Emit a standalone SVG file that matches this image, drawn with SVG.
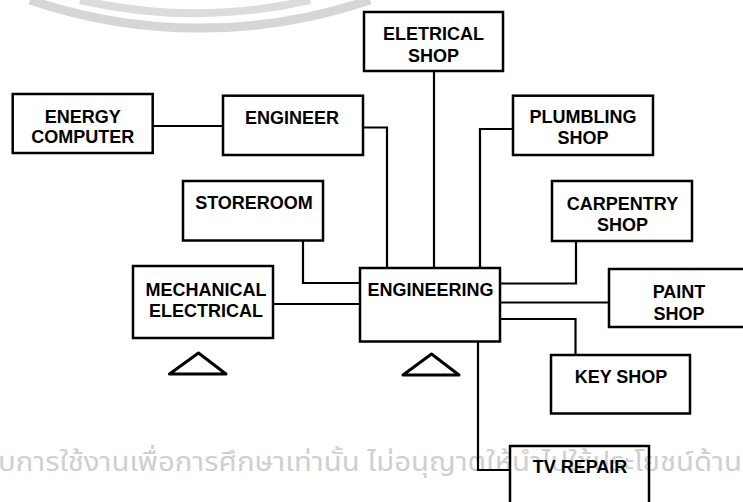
<svg xmlns="http://www.w3.org/2000/svg" width="743" height="502" viewBox="0 0 743 502">
<style>
.box{fill:none;stroke:#000;stroke-width:2.5}
.lbl{font-family:"Liberation Sans",Arial,sans-serif;font-weight:bold;font-size:18px;fill:#000;text-anchor:middle}
.con{fill:none;stroke:#000;stroke-width:2.2}
.tri{fill:none;stroke:#000;stroke-width:3;stroke-linejoin:round}
.wm{font-family:"Noto Sans Thai","Noto Sans","DejaVu Sans",sans-serif;font-size:26px;fill:#cfcfcf}
</style>
<rect width="743" height="502" fill="#fff"/>
<g id="watermark">
<path d="M30 0 A528 528 0 0 0 370 0" fill="none" stroke="#d6d6d6" stroke-width="9"/>
<path d="M80 0 A512 512 0 0 0 310 0" fill="none" stroke="#dcdcdc" stroke-width="8"/>
<text class="wm" x="-2" y="471" textLength="744" lengthAdjust="spacingAndGlyphs">บการใช้งานเพื่อการศึกษาเท่านั้น ไม่อนุญาตให้นำไปใช้ประโยชน์ด้าน</text>
</g>
<g id="connectors">
<path class="con" d="M152.7 126H223"/>
<path class="con" d="M363 127.5H387V268"/>
<path class="con" d="M434 71V268"/>
<path class="con" d="M513 129H480V268"/>
<path class="con" d="M303 241V283H360"/>
<path class="con" d="M273 304H360"/>
<path class="con" d="M576 241V283.5H500"/>
<path class="con" d="M500 302.5H609"/>
<path class="con" d="M500 319H575.5V355"/>
<path class="con" d="M478 342V470H510"/>
</g>
<g id="eletrical-shop"><rect class="box" x="364" y="12" width="139" height="59"/><text class="lbl" x="433.5" y="40">ELETRICAL</text><text class="lbl" x="433.5" y="61.5">SHOP</text></g>
<g id="energy-computer"><rect class="box" x="12.7" y="94" width="140" height="59"/><text class="lbl" x="82.7" y="122.7">ENERGY</text><text class="lbl" x="82.7" y="143">COMPUTER</text></g>
<g id="engineer"><rect class="box" x="223" y="95.7" width="140" height="59.3"/><text class="lbl" x="292" y="124">ENGINEER</text></g>
<g id="plumbling-shop"><rect class="box" x="513" y="95.7" width="140" height="59.3"/><text class="lbl" x="583" y="123.3">PLUMBLING</text><text class="lbl" x="583" y="144">SHOP</text></g>
<g id="storeroom"><rect class="box" x="183" y="181" width="140" height="59.5"/><text class="lbl" x="254" y="209.3">STOREROOM</text></g>
<g id="carpentry-shop"><rect class="box" x="552" y="181" width="140" height="60"/><text class="lbl" x="622.5" y="210">CARPENTRY</text><text class="lbl" x="622.5" y="230.7">SHOP</text></g>
<g id="mechanical-electrical"><rect class="box" x="133" y="266" width="140" height="72"/><text class="lbl" x="206" y="296">MECHANICAL</text><text class="lbl" x="206" y="316.7">ELECTRICAL</text></g>
<g id="engineering"><rect class="box" x="360" y="268" width="140" height="73.5"/><text class="lbl" x="430.5" y="296">ENGINEERING</text></g>
<g id="paint-shop"><rect class="box" x="609" y="269" width="160" height="58"/><text class="lbl" x="679" y="298">PAINT</text><text class="lbl" x="679" y="320">SHOP</text></g>
<g id="key-shop"><rect class="box" x="551" y="355" width="139" height="58.5"/><text class="lbl" x="621" y="383">KEY SHOP</text></g>
<g id="tv-repair"><rect class="box" x="510" y="446" width="139" height="70"/><text class="lbl" x="580" y="473">TV REPAIR</text></g>
<g id="triangles">
<path class="tri" d="M198.5 353L226 374H169.5Z"/>
<path class="tri" d="M431.5 354L459 375H403Z"/>
</g>
</svg>
